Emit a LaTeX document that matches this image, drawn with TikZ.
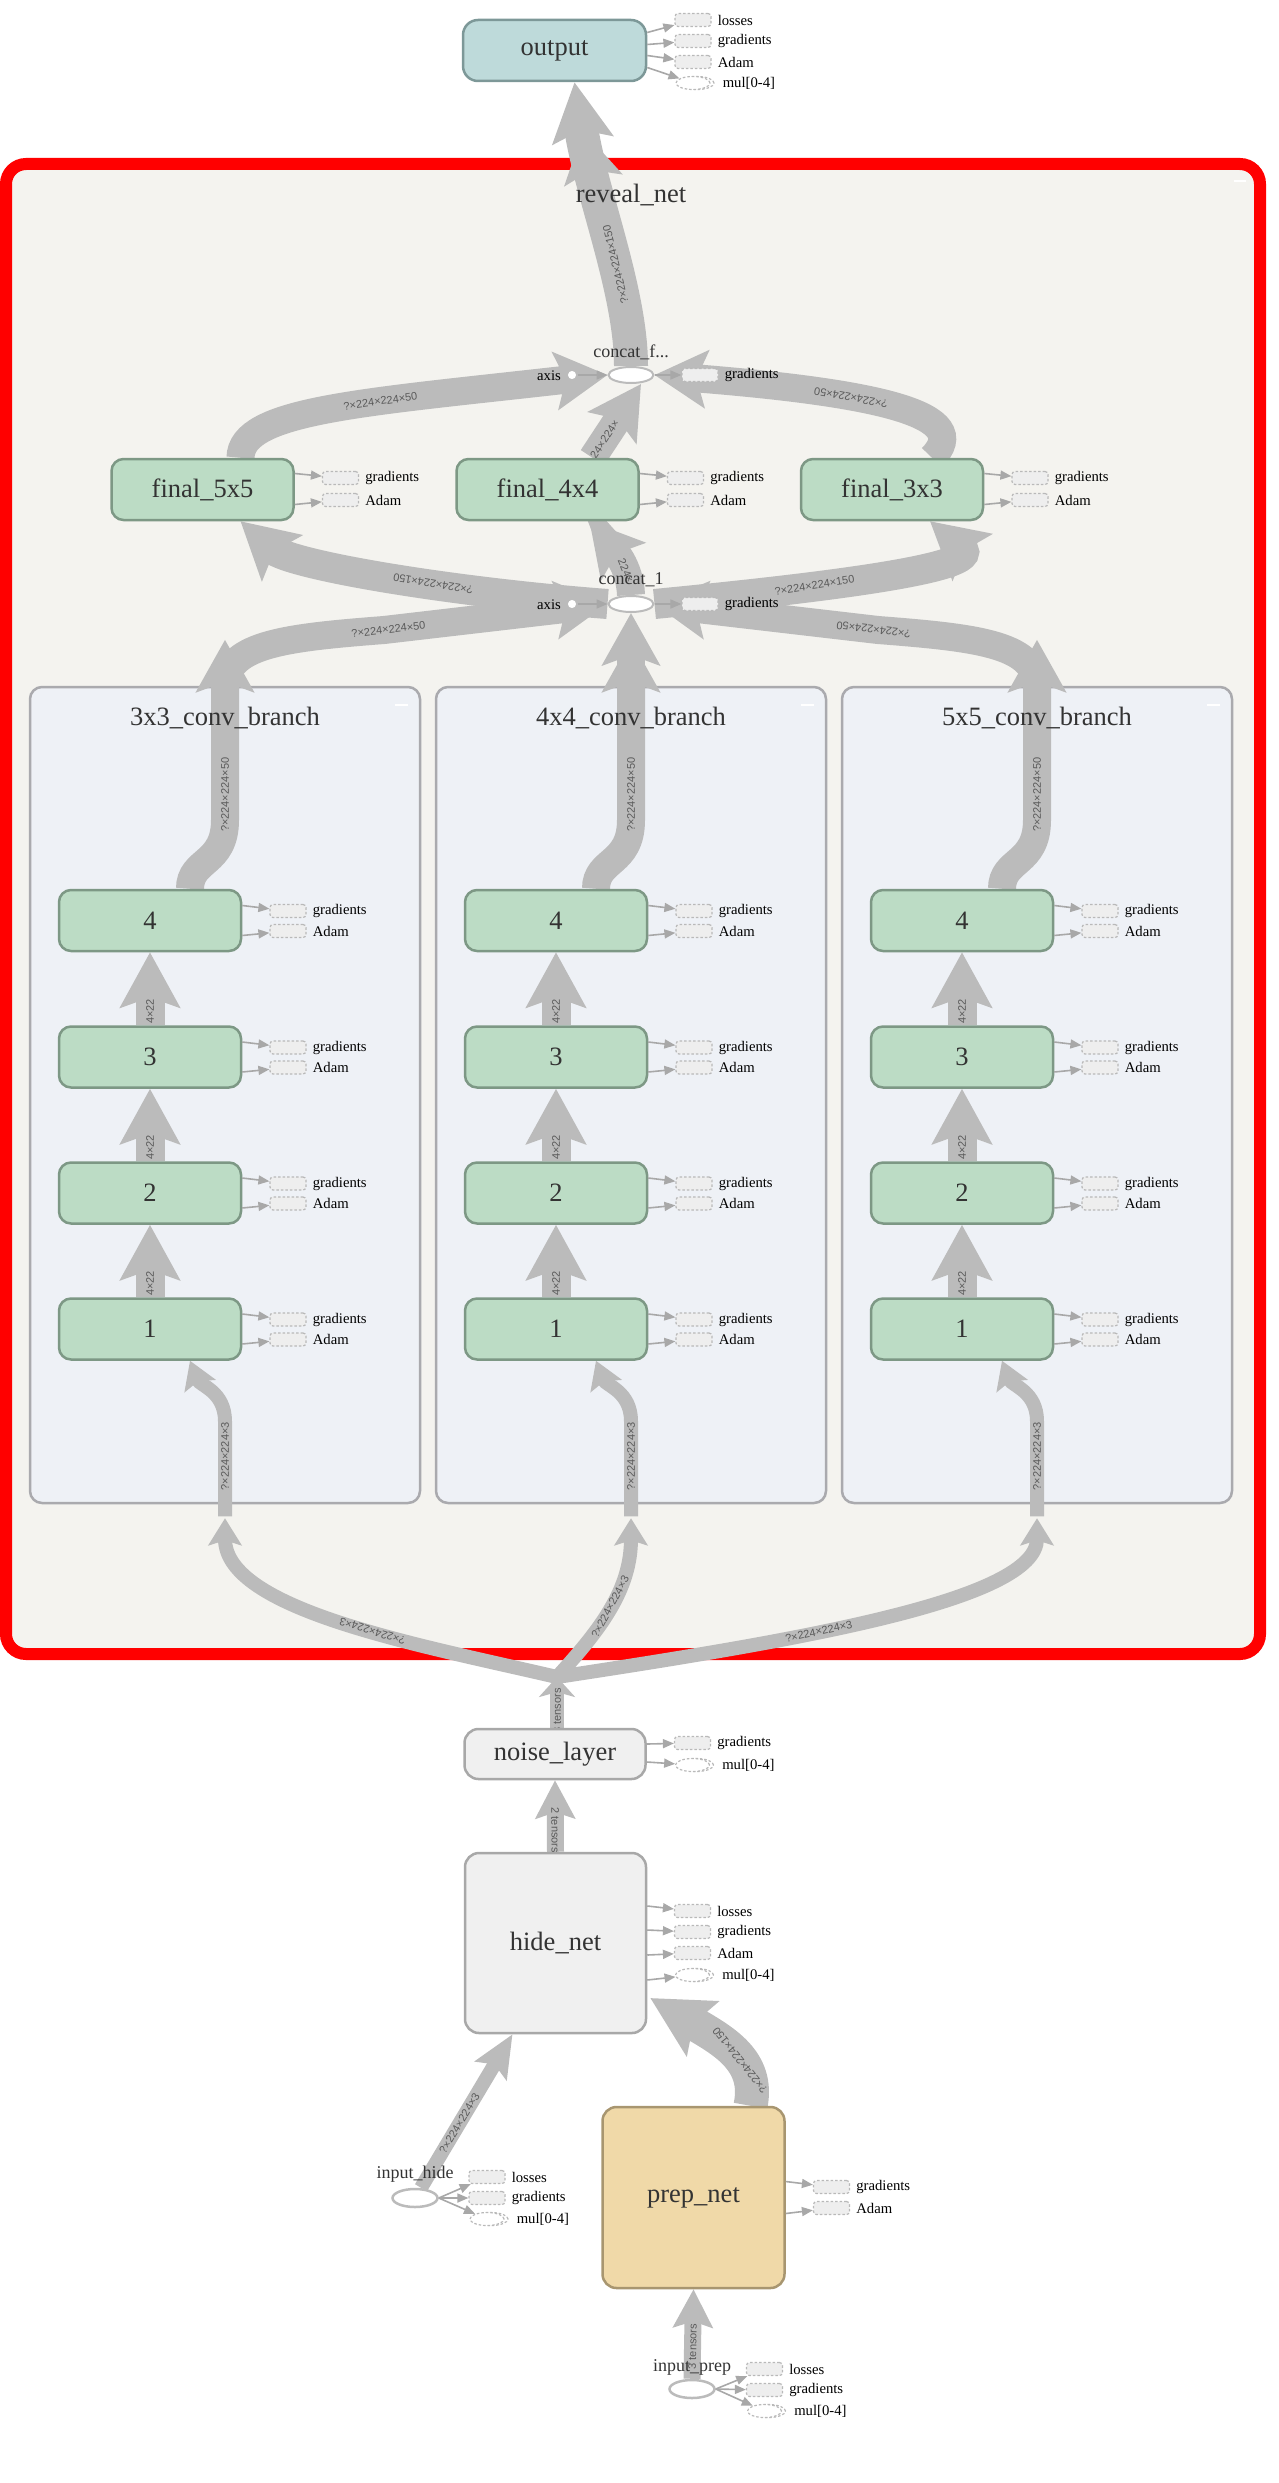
\documentclass[tikz,border=0pt]{standalone}
\usepackage{fontspec}
\setmainfont{Liberation Serif}
\newfontfamily\lblfont{Liberation Sans}
\usetikzlibrary{arrows.meta,calc,shapes.geometric,decorations.markings}
\definecolor{redc}{RGB}{255,0,0}
\definecolor{revealbg}{RGB}{244,243,239}
\definecolor{branchbg}{RGB}{238,241,246}
\definecolor{branchdraw}{RGB}{170,170,174}
\definecolor{greenfill}{RGB}{188,220,197}
\definecolor{greendraw}{RGB}{125,152,133}
\definecolor{outfill}{RGB}{190,218,218}
\definecolor{outdraw}{RGB}{125,152,152}
\definecolor{greyfill}{RGB}{240,240,240}
\definecolor{greydraw}{RGB}{168,168,168}
\definecolor{prepfill}{RGB}{240,217,168}
\definecolor{prepdraw}{RGB}{168,150,112}
\definecolor{edgec}{RGB}{187,187,187}
\definecolor{auxline}{RGB}{168,168,168}
\definecolor{auxfill}{RGB}{238,238,238}
\definecolor{auxdraw}{RGB}{185,185,185}
\definecolor{textc}{RGB}{51,51,51}
\definecolor{elblc}{RGB}{90,90,90}
\pgfdeclarelayer{bg}
\pgfdeclarelayer{edges}
\pgfsetlayers{bg,edges,main}
\tikzset{
  opnode/.style={rectangle, rounded corners=12pt, line width=2.5pt, minimum width=182pt, minimum height=61pt, inner sep=0pt, text=textc, font=\fontsize{26.5}{30}\selectfont},
  greennode/.style={opnode, fill=greenfill, draw=greendraw},
  outnode/.style={opnode, fill=outfill, draw=outdraw, rounded corners=15pt, minimum width=183pt},
  greynode/.style={opnode, fill=greyfill, draw=greydraw, rounded corners=14pt},
  prepnode/.style={opnode, fill=prepfill, draw=prepdraw, rounded corners=14pt},
  branchbox/.style={rectangle, rounded corners=12pt, line width=2.5pt, fill=branchbg, draw=branchdraw, minimum width=390pt, minimum height=816pt, inner sep=0pt},
  titletext/.style={text=textc, inner sep=0pt, font=\fontsize{26.5}{30}\selectfont},
  concatnode/.style={ellipse, fill=white, draw=edgec, line width=2pt, minimum width=45pt, minimum height=16pt, inner sep=0pt},
  inputnode/.style={ellipse, draw=edgec, line width=2.5pt, minimum width=45pt, minimum height=18pt, inner sep=0pt},
  axisnode/.style={circle, fill=white, draw=edgec, line width=1.5pt, minimum size=10pt, inner sep=0pt},
  smalltitle/.style={text=textc, inner sep=0pt, font=\fontsize{18}{20}\selectfont},
  auxbox/.style={rectangle, rounded corners=3pt, minimum width=36pt, minimum height=13pt, inner sep=0pt, fill=auxfill, draw=auxdraw, dash pattern=on 2.5pt off 2pt, line width=1.2pt},
  auxser/.style={ellipse, minimum width=34pt, minimum height=13pt, inner sep=0pt, fill=white, draw=auxdraw, dash pattern=on 2.5pt off 2pt, line width=1.2pt},
  auxlbl/.style={anchor=west, inner sep=0pt, text=black, font=\fontsize{14.7}{16}\selectfont},
  auxarrow/.style={draw=auxline, line width=1.6pt, -{Triangle[length=11pt,width=9pt]}},
  elbl/.style={font=\lblfont\fontsize{11}{12}\selectfont, text=elblc, inner sep=0pt},
  e34/.style={draw=edgec, line width=34pt, -{Stealth[length=58pt,width=60pt,inset=10pt]}},
  e30/.style={draw=edgec, line width=30pt, -{Stealth[length=55pt,width=60pt,inset=10pt]}},
  e28/.style={draw=edgec, line width=28pt, -{Stealth[length=52pt,width=57pt,inset=10pt]}},
  e29/.style={draw=edgec, line width=29pt, -{Stealth[length=55pt,width=59pt,inset=10pt]}},
  e17/.style={draw=edgec, line width=17pt, -{Stealth[length=38pt,width=39pt,inset=6pt]}},
  e14/.style={draw=edgec, line width=14pt, -{Stealth[length=27pt,width=33pt,inset=5pt]}},
  bndarrow/.style={postaction={decorate, decoration={markings, mark=at position #1 with {\arrow{Stealth[length=50pt,width=58pt,inset=10pt]}}}}},
}
\newcommand{\AuxB}[5]{%
  \node[auxbox] (#1) at (#3,#4) {};
  \node[auxlbl] (#1l) at ($(#1.east)+(6,0)$) {#5};
  \draw[auxarrow] #2 -- (#1);
}
\newcommand{\AuxS}[5]{%
  \node[auxser] (#1b) at ($(#3,#4)+(4,0)$) {};
  \node[auxser] (#1) at (#3,#4) {};
  \node[auxlbl] (#1l) at ($(#1.east)+(12,0)$) {#5};
  \draw[auxarrow] #2 -- (#1);
}
\begin{document}
\begin{tikzpicture}[x=1pt,y=-1pt]
\useasboundingbox (0,0) rectangle (1278,2483);

% ---------- group boxes ----------
\begin{pgfonlayer}{bg}
\node[draw=redc, line width=12pt, fill=revealbg, rounded corners=20pt, minimum width=1254pt, minimum height=1490pt, inner sep=0pt] (reveal) at (633,909) {};
\draw[white, line width=2.5pt] (1234,181) -- (1246,181);
\foreach \L/\nm/\lab in {30/3/3x3, 436/4/4x4, 842/5/5x5} {
  \node[branchbox] (br\nm) at (\L+195,1095) {};
  \draw[white, line width=2.5pt] (\L+365,705) -- (\L+378,705);
}
\end{pgfonlayer}

\node[titletext] (revealt) at (631,195) {reveal\_net};
\foreach \L/\nm/\lab in {30/3/3x3, 436/4/4x4, 842/5/5x5} {
  \node[titletext] (t\nm) at (\L+195,718) {\lab\_conv\_branch};
  \node[greennode] (b\nm-1) at (\L+120,1329) {1};
  \node[greennode] (b\nm-2) at (\L+120,1193) {2};
  \node[greennode] (b\nm-3) at (\L+120,1057) {3};
  \node[greennode] (b\nm-4) at (\L+120,920.5) {4};
}

% ---------- main nodes ----------
\node[outnode] (out) at (554.5,50.5) {output};
\node[concatnode] (cf) at (631,375) {};
\node[smalltitle] (cft) at (631,352) {concat\_f...};
\node[axisnode] (cfa) at (572,375) {};
\node[auxlbl, anchor=east] (cfal) at (561,376) {axis};
\node[concatnode] (cf1) at (631,604) {};
\node[smalltitle] (cf1t) at (631,580) {concat\_1};
\node[axisnode] (cf1a) at (572,604) {};
\node[auxlbl, anchor=east] (cf1al) at (561,605) {axis};
\node[greennode] (f5) at (202.5,489.5) {final\_5x5};
\node[greennode] (f4) at (547.5,489.5) {final\_4x4};
\node[greennode] (f3) at (892,489.5) {final\_3x3};
\node[greynode, minimum width=181pt, minimum height=50pt] (noise) at (555,1754) {noise\_layer};
\node[greynode, minimum width=181pt, minimum height=180pt] (hide) at (555.5,1943) {hide\_net};
\node[prepnode, minimum height=181pt] (prep) at (693.5,2197.5) {prep\_net};
\node[inputnode] (ih) at (415,2198) {};
\node[smalltitle] (iht) at (415,2174) {input\_hide};
\node[inputnode] (ip) at (692,2389) {};
\node[smalltitle] (ipt) at (692,2367) {input\_prep};
\coordinate (split) at (557,1677);

% ---------- data edges ----------
\begin{pgfonlayer}{edges}
\draw[e34, bndarrow=0.83] (cf.north) .. controls (631,290) and (590,190) .. ($(out.south)+(20,0)$)
  node[elbl, pos=0.4, sloped, allow upside down] {?×224×224×150};
\draw[e28] ($(f5.north)+(38,0)$) .. controls (241,410) and (360,403) .. (cf.west)
  node[elbl, pos=0.62, sloped, allow upside down] {?×224×224×50};
\draw[e28] ($(f4.north)+(45,0)$) -- node[elbl, pos=0.25, sloped] {24×224×} ($(cf.south)+(10,0)$);
\draw[e28] ($(f3.north)+(40,0)$) .. controls (975,415) and (880,393) .. (cf.east)
  node[elbl, pos=0.63, sloped, allow upside down] {?×224×224×50};
\draw[e30] (cf1.west) .. controls (450,592) and (290,565) .. ($(f5.south)+(38,0)$)
  node[elbl, pos=0.38, sloped, allow upside down] {?×224×224×150};
\draw[e28] (cf1.north) .. controls (630,565) and (612,548) .. ($(f4.south)+(42,0)$)
  node[elbl, pos=0.3, sloped] {224×};
\draw[e30] (cf1.east) .. controls (820,588) and (985,568) .. ($(f3.south)+(38,0)$)
  node[elbl, pos=0.34, sloped] {?×224×224×150};

% branch outputs
\foreach \L/\nm in {30/3, 436/4, 842/5} {
  \draw[e28] ($(b\nm-4.north)+(40,0)$) .. controls +(0,-30) and +(0,45) .. (\L+195,820)
    -- node[elbl, pos=0.14, sloped] {?×224×224×50} ($(br\nm.north)+(0,-46)$);
  \draw[e29] (b\nm-1.north) -- node[elbl, pos=0.19, sloped] {4×22} (b\nm-2.south);
  \draw[e29] (b\nm-2.north) -- node[elbl, pos=0.19, sloped] {4×22} (b\nm-3.south);
  \draw[e29] (b\nm-3.north) -- node[elbl, pos=0.19, sloped] {4×22} (b\nm-4.south);
  \draw[e14] ($(br\nm.south)+(0,12)$) -- node[elbl, pos=0.63, sloped] {?×224×224×3} ($(br\nm.south)+(0,-83)$)
    .. controls +(0,-30) and +(10,25) .. ($(b\nm-1.south)+(40,0)$);
}
\draw[e28] ($(br3.north)+(0,3)$) .. controls (225,645) and (280,638) .. (384,630)
  -- node[elbl, pos=0.02, sloped] {?×224×224×50} (cf1.west);
\draw[e28] ($(br4.north)+(0,3)$) -- (cf1.south);
\draw[e28] ($(br5.north)+(0,3)$) .. controls (1037,645) and (982,638) .. (878,630)
  -- node[elbl, pos=0.02, sloped, allow upside down] {?×224×224×50} (cf1.east);

% inputs to branches
\draw[e14, -{Stealth[length=20pt,width=36pt,inset=5pt]}] ($(noise.north)+(2,0)$) -- node[elbl, pos=0.33, sloped] {3 tensors} (split);
\draw[e14] (split) .. controls (420,1645) and (225,1610) .. ($(br3.south)+(0,14)$)
  node[elbl, pos=0.42, sloped, allow upside down] {?×224×224×3};
\draw[e14] (split) .. controls (600,1630) and (631,1590) .. ($(br4.south)+(0,14)$)
  node[elbl, pos=0.5, sloped] {?×224×224×3};
\draw[e14] (split) .. controls (800,1640) and (1037,1600) .. ($(br5.south)+(0,14)$)
  node[elbl, pos=0.38, sloped] {?×224×224×3};

% lower part
\draw[e17] (hide.north) -- node[elbl, pos=0.3, sloped] {2 tensors} (noise.south);
\draw[e14, -{Stealth[length=42pt,width=36pt,inset=7pt]}] ($(ih.north)+(6,0)$) -- node[elbl, pos=0.42, sloped] {?×224×224×3} ($(hide.south)+(-43,0)$);
\draw[e34, -{Stealth[length=60pt,width=62pt,inset=10pt]}] ($(prep.north)+(57,0)$) .. controls (760,2060) and (722,2040) .. ($(hide.east)+(3,55)$)
  node[elbl, pos=0.4, sloped, allow upside down] {?×224×224×150};
\draw[e17] (ip.north) -- node[elbl, pos=0.36, sloped] {3 tensors} (prep.south);
\end{pgfonlayer}

% ---------- auxiliary items ----------
\AuxB{oa1}{($(out.east)+(0,-18)$)}{693}{20}{losses}
\AuxB{oa2}{($(out.east)+(0,-6)$)}{693}{41}{gradients}
\AuxB{oa3}{($(out.east)+(0,5)$)}{693}{62}{Adam}
\AuxS{oa4}{($(out.east)+(0,17)$)}{693}{83}{mul[0-4]}

\draw[auxarrow] (cfa) -- (cf);
\AuxB{cfg}{(cf.east)}{700}{375}{gradients}
\draw[auxarrow] (cf1a) -- (cf1);
\AuxB{cf1g}{(cf1.east)}{700}{604}{gradients}

\AuxB{f5g}{($(f5.east)+(0,-16)$)}{340.5}{478}{gradients}
\AuxB{f5a}{($(f5.east)+(0,15)$)}{340.5}{500}{Adam}
\AuxB{f4g}{($(f4.east)+(0,-16)$)}{685.5}{478}{gradients}
\AuxB{f4a}{($(f4.east)+(0,15)$)}{685.5}{500}{Adam}
\AuxB{f3g}{($(f3.east)+(0,-16)$)}{1030}{478}{gradients}
\AuxB{f3a}{($(f3.east)+(0,15)$)}{1030}{500}{Adam}

\foreach \L/\nm in {30/3, 436/4, 842/5} {
  \foreach \k/\yy in {1/1329, 2/1193, 3/1057, 4/920.5} {
    \AuxB{g\nm\k}{($(b\nm-\k.east)+(0,-15)$)}{\L+258}{\yy-9.5}{gradients}
    \AuxB{a\nm\k}{($(b\nm-\k.east)+(0,15)$)}{\L+258}{\yy+10.5}{Adam}
  }
}

\AuxB{ng}{($(noise.east)+(0,-10)$)}{692.5}{1743}{gradients}
\AuxS{nm}{($(noise.east)+(0,8)$)}{692.5}{1765}{mul[0-4]}

\AuxB{hl}{($(hide.east)+(0,-37)$)}{692.5}{1911}{losses}
\AuxB{hg}{($(hide.east)+(0,-13)$)}{692.5}{1932}{gradients}
\AuxB{ha}{($(hide.east)+(0,12)$)}{692.5}{1953}{Adam}
\AuxS{hm}{($(hide.east)+(0,37)$)}{692.5}{1975}{mul[0-4]}

\AuxB{pg}{($(prep.east)+(0,-16)$)}{831.5}{2187}{gradients}
\AuxB{pa}{($(prep.east)+(0,16)$)}{831.5}{2208}{Adam}

\AuxB{ihl}{(ih.east)}{487}{2177}{losses}
\AuxB{ihg}{(ih.east)}{487}{2198}{gradients}
\AuxS{ihm}{(ih.east)}{487}{2219}{mul[0-4]}

\AuxB{ipl}{(ip.east)}{764.5}{2369}{losses}
\AuxB{ipg}{(ip.east)}{764.5}{2390}{gradients}
\AuxS{ipm}{(ip.east)}{764.5}{2411}{mul[0-4]}
\end{tikzpicture}
\end{document}
